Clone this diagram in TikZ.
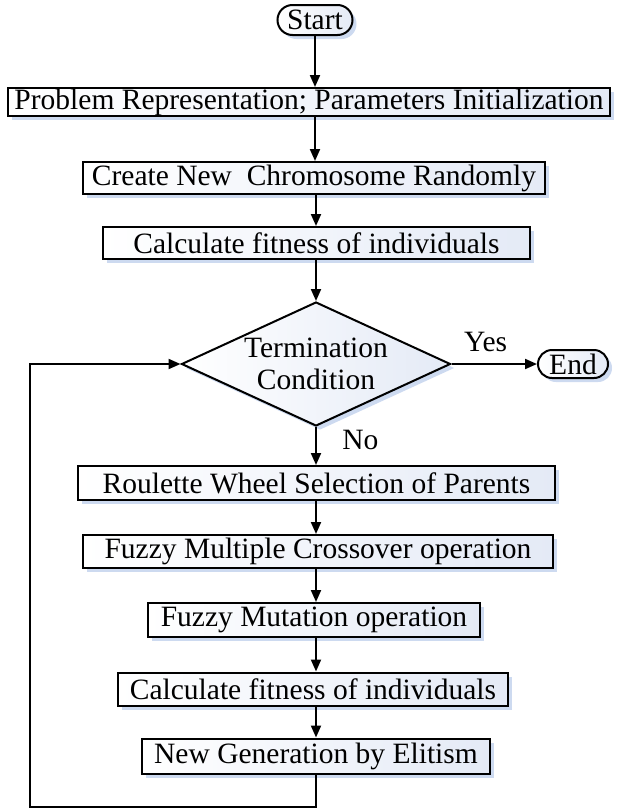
\documentclass[tikz,border=0pt]{standalone}
\usepackage{fontspec}
\setmainfont{Liberation Serif}
\usetikzlibrary{arrows.meta,shapes.geometric,shapes.misc,shadows}
\definecolor{ShadowBlue}{RGB}{205,218,240}
\definecolor{BoxBlue}{RGB}{228,234,246}
\tikzset{
  boxshadow/.style={drop shadow={shadow xshift=4pt,shadow yshift=-4pt,
    fill=ShadowBlue,opacity=1}},
  process/.style={draw=black,line width=2pt,left color=white,right color=BoxBlue,
    boxshadow,inner sep=0pt,font=\fontsize{29.5}{33}\selectfont},
  terminal/.style={rounded rectangle,draw=black,line width=2pt,left color=white,
    right color=BoxBlue,boxshadow,inner sep=0pt,font=\fontsize{29.5}{33}\selectfont},
  decision/.style={diamond,draw=black,line width=2pt,left color=white,
    right color=BoxBlue,boxshadow,inner sep=0pt,align=center,aspect=2.17,
    font=\fontsize{29.5}{32}\selectfont},
  arrow/.style={-{Triangle[length=12pt,width=10pt]},line width=2pt},
  lbl/.style={font=\fontsize{29.5}{33}\selectfont}
}
\begin{document}
\begin{tikzpicture}[x=1pt,y=1pt]
  \useasboundingbox (0,0) rectangle (618,-809);
  % top part
  \node[terminal,minimum width=75pt,minimum height=30pt] (start) at (315,-20) {Start};
  \node[process,minimum width=602pt,minimum height=28pt] (init) at (309,-102)
    {Problem Representation; Parameters Initialization};
  \node[process,minimum width=462pt,minimum height=32pt] (create) at (314,-178)
    {Create New\ \ Chromosome Randomly};
  \node[process,minimum width=427pt,minimum height=32pt] (fitness) at (316.5,-243)
    {Calculate fitness of individuals};
  \node[decision,minimum width=269pt,minimum height=124pt] (term) at (316,-364)
    {Termination\\Condition};
  \node[terminal,minimum width=70pt,minimum height=28pt] (finish) at (573,-364) {End};
  % loop body
  \node[process,minimum width=477pt,minimum height=34pt] (select) at (316.5,-483)
    {Roulette Wheel Selection of Parents};
  \node[process,minimum width=470pt,minimum height=33pt] (cross) at (318,-551.5)
    {Fuzzy Multiple Crossover operation};
  \node[process,minimum width=332pt,minimum height=34pt] (mutate) at (314,-620)
    {Fuzzy Mutation operation};
  \node[process,minimum width=390pt,minimum height=33pt] (refit) at (313,-689)
    {Calculate fitness of individuals};
  \node[process,minimum width=348pt,minimum height=35pt] (elite) at (316,-756)
    {New Generation by Elitism};
  \coordinate (back) at (30,-807);
  % connectors
  \draw[arrow] (start.south) -- (start.south |- init.north);
  \draw[arrow] (start.south |- init.south) -- (start.south |- create.north);
  \draw[arrow] (term.north |- create.south) -- (term.north |- fitness.north);
  \draw[arrow] (term.north |- fitness.south) -- (term.north);
  \draw[arrow] (term.east) -- node[lbl,pos=0.4,above=8pt]{Yes} (finish.west);
  \draw[arrow] (term.south) -- node[lbl,pos=0.35,right=22pt]{No} (term.south |- select.north);
  \draw[arrow] (term.south |- select.south) -- (term.south |- cross.north);
  \draw[arrow] (term.south |- cross.south) -- (term.south |- mutate.north);
  \draw[arrow] (term.south |- mutate.south) -- (term.south |- refit.north);
  \draw[arrow] (term.south |- refit.south) -- (term.south |- elite.north);
  \draw[arrow] (term.south |- elite.south) |- (back) |- (term.west);
\end{tikzpicture}
\end{document}
